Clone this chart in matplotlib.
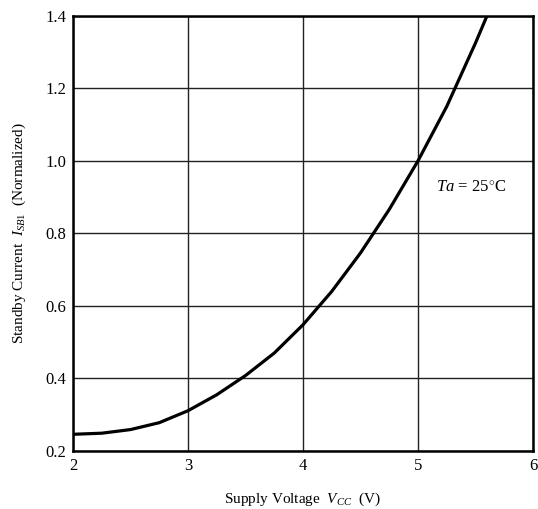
import matplotlib
matplotlib.use("Agg")
import matplotlib.pyplot as plt

plt.rcParams['font.family'] = ['Liberation Serif', 'DejaVu Serif']
plt.rcParams['mathtext.fontset'] = 'custom'
plt.rcParams['mathtext.rm'] = 'Liberation Serif'
plt.rcParams['mathtext.it'] = 'Liberation Serif:italic'

# supply voltage (V) vs normalized standby current
vcc = [2.0, 2.25, 2.5, 2.75, 3.0, 3.25, 3.5, 3.75, 4.0, 4.25, 4.5, 4.75, 5.0, 5.25, 5.5, 5.6]
isb = [0.246, 0.249, 0.259, 0.278, 0.311, 0.355, 0.408, 0.47, 0.548, 0.64, 0.746, 0.866, 1.0, 1.15, 1.325, 1.40]

xticks = [2, 3, 4, 5, 6]
yticks = [0.2, 0.4, 0.6, 0.8, 1.0, 1.2, 1.4]

fig = plt.figure(figsize=(5.38, 5.09), dpi=100)
ax = fig.add_axes([0.1357, 0.114, 0.855, 0.855])

ax.plot(vcc, isb, color='black', linewidth=2.3, solid_joinstyle='round')

ax.set_xlim(2, 6)
ax.set_ylim(0.2, 1.4)
ax.set_xticks(xticks)
ax.set_yticks(yticks)
ax.set_xticklabels([str(t) for t in xticks], fontsize=12)
ax.set_yticklabels(['%.1f' % t for t in yticks], fontsize=12)
ax.tick_params(length=0, pad=5)
ax.grid(True, color='#222222', linewidth=1.0)
for s in ax.spines.values():
    s.set_linewidth(1.8)

ax.text(5.16, 0.925, r'$Ta$ = 25$^{\circ}$C', fontsize=12, va='center', ha='left')

ax.set_xlabel(r'Supply Voltage  $V_{CC}$  (V)', fontsize=11, labelpad=12)
ax.set_ylabel(r'Standby Current  $I_{SB1}$  (Normalized)', fontsize=11, labelpad=12)

fig.savefig('out.png', dpi=100)
